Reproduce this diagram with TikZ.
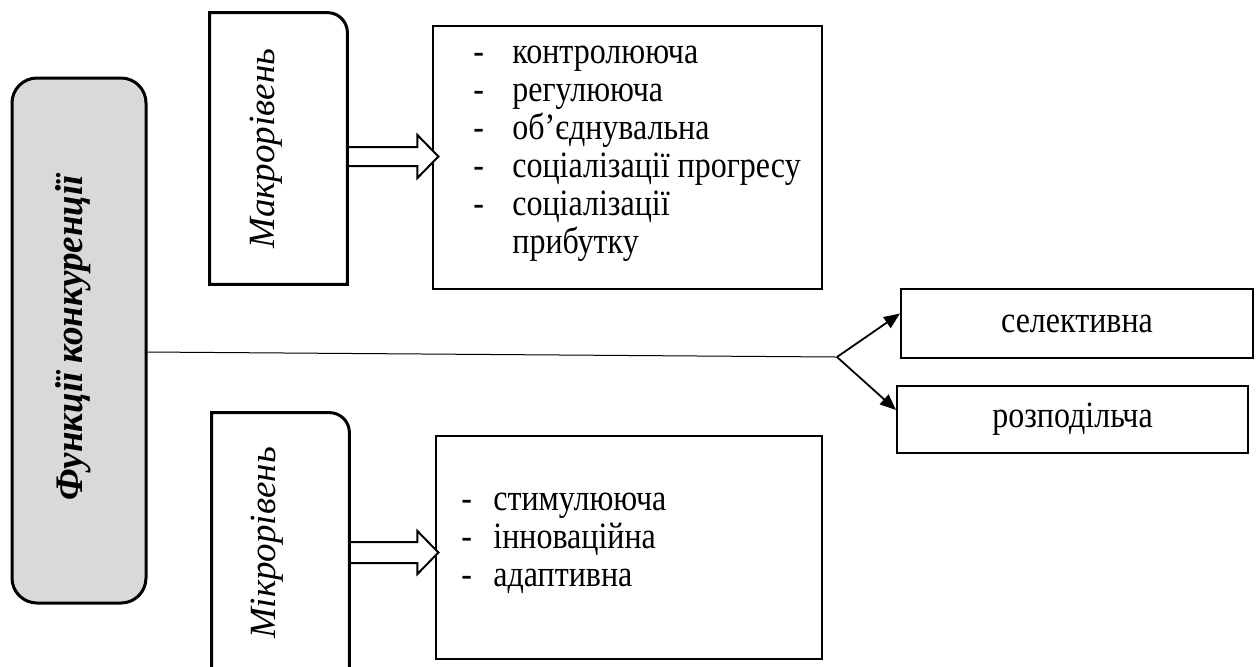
\documentclass[tikz,border=0pt]{standalone}
\usepackage{graphicx}
\usepackage{fontspec}
\setmainfont{Liberation Serif}
\usetikzlibrary{arrows.meta,calc}
\newcommand\vstretch[1]{\scalebox{1}[1.16]{#1}}
\tikzset{
  mainbox/.style={draw, line width=1.5pt, fill=black!15, rounded corners=12.5pt,
    minimum width=67pt, minimum height=262.5pt, inner sep=0pt},
  maintext/.style={rotate=90, inner sep=0pt, font=\bfseries\itshape\fontsize{19.5}{22}\selectfont},
  lvlbox/.style={line width=1.5pt},
  lvlshape/.style={minimum width=68.5pt, minimum height=135.5pt, inner sep=0pt},
  lvltext/.style={rotate=90, inner sep=0pt, font=\itshape\fontsize{18.5}{22}\selectfont},
  listbox/.style={draw, line width=1pt, inner sep=0pt},
  listtext/.style={anchor=base west, inner sep=0pt, font=\fontsize{16}{16.4}\selectfont},
  fnbox/.style={draw, line width=1pt, inner sep=0pt, font=\fontsize{16}{19}\selectfont},
  barrow/.style={draw, line width=1pt, fill=white, line join=miter},
  conn/.style={line width=0.9pt, -{Triangle[length=8pt,width=6.5pt]}},
  thinline/.style={line width=0.5pt}
}
\begin{document}
\begin{tikzpicture}[x=0.5pt,y=-0.5pt]
\clip (0,0) rectangle (1256,666);
\fill[white] (0,0) rectangle (1256,666);

% main box
\node[mainbox] (main) at (79,340.5) {};
\node[maintext] (maint) at (73,338) {\scalebox{0.95}[1]{Функції конкуренції}};

% level boxes (shapes)
\node[lvlshape] (makro) at (278.5,148.5) {};
\node[lvlshape] (mikro) at (280.5,548.5) {};

% list boxes
\node[listbox, minimum width=194.5pt, minimum height=131.5pt] (makrolist) at (627.5,157.5) {};
\node[listbox, minimum width=193pt, minimum height=111.5pt] (mikrolist) at (629,547.5) {};

% block arrows
\path (makro.east) ++(0,8) coordinate (ma);
\draw[barrow] (ma) ++(0,-9.5) -- ++(70,0) -- ++(0,-12) -- ++(21,21.5) -- ++(-21,21.5) -- ++(0,-12) -- ++(-70,0);
\path (mikro.east) ++(0,3.5) coordinate (mi);
\draw[barrow] (mi) ++(0,-10) -- ++(68,0) -- ++(0,-11) -- ++(21,21.5) -- ++(-21,21.5) -- ++(0,-11) -- ++(-68,0);

% level box outlines (one rounded corner)
\draw[lvlbox] (makro.south west) -- (makro.north west) -- ([xshift=-10pt]makro.north east)
  arc[start angle=90, end angle=0, radius=10pt] -- (makro.south east) -- cycle;
\draw[lvlbox] (mikro.south west) -- (mikro.north west) -- ([xshift=-10pt]mikro.north east)
  arc[start angle=90, end angle=0, radius=10pt] -- (mikro.south east) -- cycle;

\node[lvltext] (makrot) at (266,148.5) {Макрорівень};
\node[lvltext] (mikrot) at (267,543) {Мікрорівень};

% list texts
\node[listtext] (makrolt) at (473,63) {\vstretch{\begin{tabular}[t]{@{}l@{}}
\makebox[19.5pt][l]{-}контролююча\\
\makebox[19.5pt][l]{-}регулююча\\
\makebox[19.5pt][l]{-}об’єднувальна\\
\makebox[19.5pt][l]{-}соціалізації прогресу\\
\makebox[19.5pt][l]{-}соціалізації\\
\makebox[19.5pt][l]{}прибутку
\end{tabular}}};
\node[listtext] (mikrolt) at (461,510) {\vstretch{\begin{tabular}[t]{@{}l@{}}
\makebox[16pt][l]{-}стимулююча\\
\makebox[16pt][l]{-}інноваційна\\
\makebox[16pt][l]{-}адаптивна
\end{tabular}}};

% function boxes
\node[fnbox, minimum width=176pt, minimum height=34.5pt] (selek) at (1077,323.5) {\vstretch{селективна}};
\node[fnbox, minimum width=175.5pt, minimum height=33.5pt] (rozp) at (1072.5,419.5) {\vstretch{розподільча}};

% connectors
\coordinate (j) at (837,357);
\draw[thinline] (main.east) ++(0,11.5) -- (j);
\draw[conn] (j) -- ([yshift=5pt]selek.west);
\draw[conn] (j) -- ([yshift=4.75pt]rozp.west);
\end{tikzpicture}
\end{document}
